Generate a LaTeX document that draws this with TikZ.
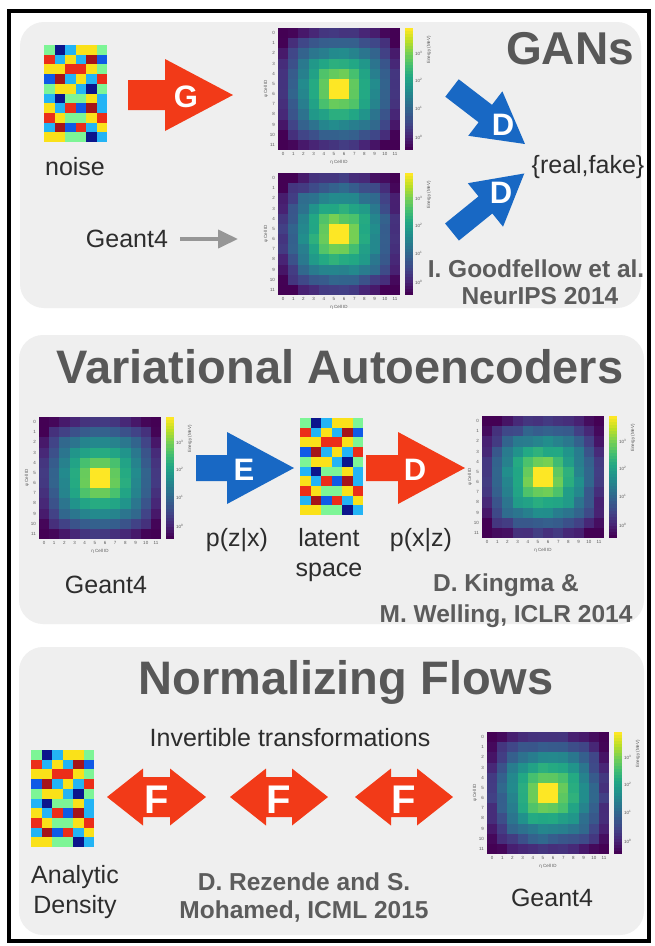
\documentclass[tikz,border=0pt]{standalone}
\usepackage{fontspec}
\setmainfont{Liberation Sans}
\usetikzlibrary{arrows.meta}

% viridis anchors
\definecolor{vir0}{HTML}{440154}
\definecolor{vir1}{HTML}{482475}
\definecolor{vir2}{HTML}{414487}
\definecolor{vir3}{HTML}{355F8D}
\definecolor{vir4}{HTML}{2A788E}
\definecolor{vir5}{HTML}{21918C}
\definecolor{vir6}{HTML}{22A884}
\definecolor{vir7}{HTML}{44BF70}
\definecolor{vir8}{HTML}{7AD151}
\definecolor{vir9}{HTML}{BDDF26}
\definecolor{vir10}{HTML}{FDE725}

% jet-like noise colours
\definecolor{noiseA}{RGB}{125,245,150}
\definecolor{noiseN}{RGB}{12,22,140}
\definecolor{noiseC}{RGB}{35,180,245}
\definecolor{noiseY}{RGB}{250,225,25}
\definecolor{noiseR}{RGB}{235,45,25}
\definecolor{noiseM}{RGB}{165,20,25}
\definecolor{noiseB}{RGB}{15,90,230}

\definecolor{panelbg}{RGB}{239,239,239}
\definecolor{redarrow}{RGB}{242,58,24}
\definecolor{bluearrow}{RGB}{24,104,196}
\definecolor{txtdark}{RGB}{45,45,45}
\definecolor{titlegray}{RGB}{88,88,88}
\definecolor{citegray}{RGB}{92,92,92}
\definecolor{arrowgray}{RGB}{150,150,150}

\tikzset{
  panel/.style={fill=panelbg, rounded corners=24pt},
  lab/.style={font=\fontsize{25}{30}\selectfont, text=txtdark, inner sep=0pt, align=center},
  cite/.style={font=\fontsize{24.5}{30}\selectfont\bfseries, text=citegray, inner sep=0pt, align=center},
  ttl/.style={font=\fontsize{47}{50}\selectfont\bfseries, text=titlegray, inner sep=0pt},
  letter/.style={font=\fontsize{31}{31}\selectfont\bfseries, text=white, inner sep=0pt},
  bigletter/.style={letter, font=\fontsize{40}{40}\selectfont\bfseries},
  tick/.style={font=\fontsize{4.5}{5}\selectfont, text=black!65, inner sep=0pt},
  grayarr/.style={line width=4pt, arrowgray, -{Triangle[length=20pt,width=18pt]}},
  box/.style={inner sep=0pt, outer sep=0pt, draw=none}
}

\def\cw{10.1667}

% block arrow: tail point, angle, length, head length, head half-width, body half-width, colour
\newcommand\blockarrow[7]{%
  \fill[#7, shift={(#1)}, rotate=#2]
    (0,-#6) -- (#3-#4,-#6) -- (#3-#4,-#5) -- (#3,0) -- (#3-#4,#5) -- (#3-#4,#6) -- (0,#6) -- cycle;}

% double block arrow: left tip, length, head length, head half-width, body half-width, colour
\newcommand\dblarrow[6]{%
  \fill[#6, shift={(#1)}]
    (0,0) -- (#3,-#4) -- (#3,-#5) -- (#2-#3,-#5) -- (#2-#3,-#4) -- (#2,0)
    -- (#2-#3,#4) -- (#2-#3,#5) -- (#3,#5) -- (#3,#4) -- cycle;}

% random-looking 6x10 latent grid: top-left corner and name
\newcommand\noisegrid[3]{%
  \node[box, minimum width=63pt, minimum height=97pt, anchor=north west] (#3) at (#1,#2) {};
  \begin{scope}[shift={(#1,#2)}]
    \foreach \rowcols [count=\r from 0] in {%
      {A,N,C,Y,Y,A},{R,C,Y,C,M,B},{Y,Y,R,R,Y,A},{B,M,C,Y,C,R},{A,Y,Y,C,N,A},%
      {C,N,A,A,Y,C},{Y,C,R,B,M,C},{R,Y,A,A,Y,R},{C,M,B,R,C,Y},{Y,Y,A,A,N,C}}{%
      \foreach \c [count=\k from 0] in \rowcols {%
        \fill[noise\c] (\k*10.5,\r*9.7) rectangle ++(10.8,10);
      }}
  \end{scope}}

% calorimeter image: top-left of plot area, name, cell jitter
\newcommand\heatmap[4]{%
  \node[box, minimum width=122pt, minimum height=122pt, anchor=north west] (#3) at (#1,#2) {};
  \begin{scope}[shift={(#1,#2)}]
    \foreach \i in {0,...,11}{%
      \foreach \j in {0,...,11}{%
        \pgfmathsetmacro\dd{0.35*max(abs(\i-5.5),abs(\j-5.5))+0.65*sqrt((\i-5.5)^2+(\j-5.5)^2)}
        \pgfmathsetmacro\vv{\dd<1 ? 1 : max(0,min(0.9,1-\dd/6.6+#4*(rnd-0.5)))}
        \pgfmathtruncatemacro\kk{floor(\vv*10)}
        \pgfmathtruncatemacro\kn{min(\kk+1,10)}
        \pgfmathtruncatemacro\pp{round(100-(\vv*10-\kk)*100)}
        \fill[vir\kk!\pp!vir\kn] (\i*\cw,\j*\cw) rectangle ++(\cw+0.3,\cw+0.3);
      }}
    % colour bar
    \foreach \t in {0,...,39}{%
      \pgfmathsetmacro\vv{1-\t/39}
      \pgfmathtruncatemacro\kk{floor(\vv*10)}
      \pgfmathtruncatemacro\kn{min(\kk+1,10)}
      \pgfmathtruncatemacro\pp{round(100-(\vv*10-\kk)*100)}
      \fill[vir\kk!\pp!vir\kn] (127,\t*3.05) rectangle ++(8,3.3);
    }
    \foreach \n in {0,...,11}{%
      \node[tick, anchor=east] at (-3,\n*\cw+\cw/2) {\n};
      \node[tick, anchor=north] at (\n*\cw+\cw/2,124.5) {\n};
    }
    \node[tick, rotate=90] at (-12,61) {φ Cell ID};
    \node[tick] at (61,134) {η Cell ID};
    \foreach \e/\yy in {3/25,2/52,1/80,0/109}{%
      \node[tick, anchor=west] at (137,\yy) {10\textsuperscript{\e}};
    }
    \node[tick, rotate=90] at (151,22) {Energy (MeV)};
  \end{scope}}

\begin{document}
\begin{tikzpicture}[x=1pt, y=-1pt]
  \useasboundingbox (0,0) rectangle (654,946);
  \fill[white] (0,0) rectangle (654,946);
  \pgfmathsetseed{17}

  % outer frame and the three panels
  \draw[line width=4pt, black] (9,11) rectangle (649,941);
  \fill[panel] (20,22) rectangle (641,308);
  \fill[panel] (19,335) rectangle (644,624);
  \fill[panel] (19,647) rectangle (644,935);

  % ---------------- GANs ----------------
  \node[ttl, font=\fontsize{46}{50}\selectfont\bfseries] (ganTitle) at (570,49) {GANs};
  \noisegrid{44}{45}{ganNoise}
  \node[lab] (noiseLab) at (75,167) {noise};
  \blockarrow{128,95}{0}{105}{68}{36}{15}{redarrow}
  \node[letter] (gLetter) at (186,97) {G};
  \heatmap{278}{28}{ganGen}{0.03}
  \heatmap{278}{173}{ganReal}{0.06}
  \node[lab] (geantA) at (127,239) {Geant4};
  \draw[grayarr, shorten <=12pt, shorten >=40pt] (geantA.east) -- (geantA.east -| ganReal.west);
  \blockarrow{452,88}{-37.5}{92}{50}{28}{11}{bluearrow}
  \blockarrow{452,232}{39}{93}{50}{28}{11}{bluearrow}
  \node[letter] (dUp) at (503,125) {D};
  \node[letter] (dDown) at (501,193) {D};
  \node[lab] (realFake) at (588,167) {\{real,fake\}};
  \node[cite] (ganCiteA) at (536,269) {I. Goodfellow et al.};
  \node[cite] (ganCiteB) at (540,296) {NeurIPS 2014};

  % ---------------- VAE ----------------
  \node[ttl] (vaeTitle) at (340,367) {Variational Autoencoders};
  \heatmap{39}{417}{vaeIn}{0.02}
  \blockarrow{196,468}{0}{98}{67}{36}{13}{bluearrow}
  \node[letter] (eLetter) at (244,470) {E};
  \noisegrid{300}{418}{vaeLatent}
  \blockarrow{366,468}{0}{99}{67}{36}{13}{redarrow}
  \node[letter] (dVae) at (415,470) {D};
  \heatmap{482}{416}{vaeOut}{0.06}
  \node[lab] (pzx) at (237,540) {p(z|x)};
  \node[lab] (latentLab) at (329,555) {latent\\space};
  \node[lab] (pxz) at (421,540) {p(x|z)};
  \node[lab] (geantB) at (106,585) {Geant4};
  \node[cite] (vaeCiteA) at (506,585) {D. Kingma \&};
  \node[cite] (vaeCiteB) at (506,616) {M. Welling, ICLR 2014};

  % ---------------- Normalizing flows ----------------
  \node[ttl] (nfTitle) at (346,682) {Normalizing Flows};
  \node[lab] (invLab) at (290,738) {Invertible transformations};
  \noisegrid{31}{750}{nfDensity}
  \dblarrow{107,797}{99}{36}{28.5}{20}{redarrow}
  \dblarrow{230,797}{98}{36}{28.5}{20}{redarrow}
  \dblarrow{355,797}{98}{36}{28.5}{20}{redarrow}
  \node[bigletter] (fA) at (157,800) {F};
  \node[bigletter] (fB) at (279,800) {F};
  \node[bigletter] (fC) at (404,800) {F};
  \heatmap{487}{732}{nfData}{0.06}
  \node[lab] (analytic) at (75,892) {Analytic\\Density};
  \node[cite] (nfCiteA) at (304,882) {D. Rezende and S.};
  \node[cite] (nfCiteB) at (304,912) {Mohamed, ICML 2015};
  \node[lab] (geantC) at (552,898) {Geant4};
\end{tikzpicture}
\end{document}
